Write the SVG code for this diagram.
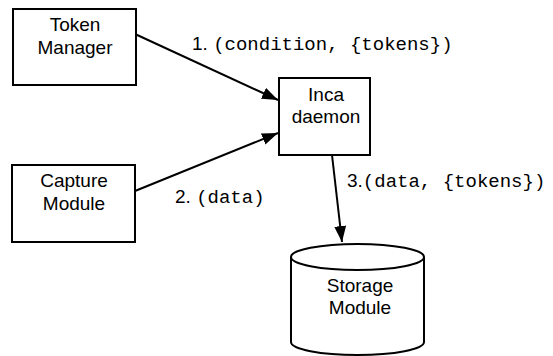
<svg xmlns="http://www.w3.org/2000/svg" width="553" height="356" viewBox="0 0 553 356">
<style>
.box{fill:#fff;stroke:#000;stroke-width:2}
.t{font-family:"Liberation Sans",Arial,sans-serif;font-size:19px;fill:#000;text-anchor:middle}
.l{font-family:"Liberation Sans",Arial,sans-serif;font-size:19px;fill:#000}
.m{font-family:"Liberation Mono","Courier New",monospace;font-size:19px}
.c{stroke:#000;stroke-width:2;fill:none}
</style>
<defs>
<marker id="ah" markerWidth="16" markerHeight="12" refX="16" refY="6" orient="auto" markerUnits="userSpaceOnUse">
<path d="M0,0 L16,6 L0,12 Z" fill="#000"/>
</marker>
</defs>
<rect width="553" height="356" fill="#fff"/>
<g id="connectors">
<line class="c" x1="135" y1="34" x2="278" y2="100" marker-end="url(#ah)"/>
<line class="c" x1="135" y1="191" x2="278" y2="133" marker-end="url(#ah)"/>
<line class="c" x1="332" y1="155" x2="342" y2="242" marker-end="url(#ah)"/>
<text class="l" x="192" y="50">1. <tspan class="m">(condition, {tokens})</tspan></text>
<text class="l" x="175" y="203">2. <tspan class="m">(data)</tspan></text>
<text class="l" x="347" y="187">3.<tspan class="m">(data, {tokens})</tspan></text>
</g>
<g id="token-manager">
<rect class="box" x="13" y="9" width="123" height="76"/>
<text class="t" x="75" y="31">Token</text>
<text class="t" x="75" y="54">Manager</text>
</g>
<g id="inca-daemon">
<rect class="box" x="279" y="78" width="91" height="77"/>
<text class="t" x="326" y="101">Inca</text>
<text class="t" x="326" y="123">daemon</text>
</g>
<g id="capture-module">
<rect class="box" x="12" y="165" width="123" height="77"/>
<text class="t" x="74" y="187">Capture</text>
<text class="t" x="74" y="210">Module</text>
</g>
<g id="storage-module">
<path class="box" d="M291,257 L291,342 A66.5,13 0 0 0 424,342 L424,257"/>
<ellipse class="box" cx="357.5" cy="257" rx="66.5" ry="13"/>
<text class="t" x="360" y="292">Storage</text>
<text class="t" x="360" y="314">Module</text>
</g>
</svg>
